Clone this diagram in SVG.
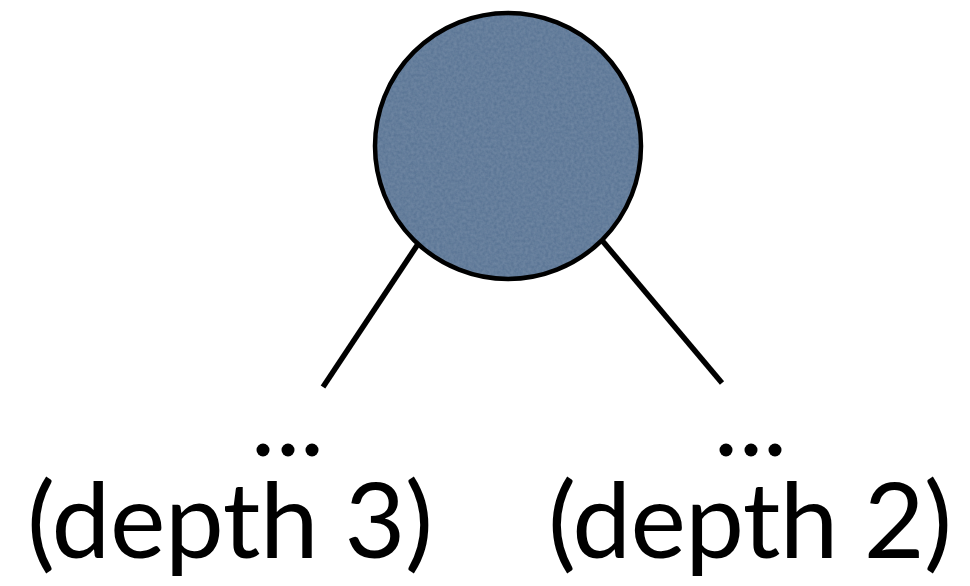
<svg xmlns="http://www.w3.org/2000/svg" width="970" height="586" viewBox="0 0 970 586">
  <style>
    .node-fill { fill: #5a7494; }
    .node-ring { fill: none; stroke: #000; stroke-width: 4.5; }
    .edge { stroke: #000; stroke-width: 5.5; fill: none; }
    .label { font-family: "Lato", "Open Sans", "DejaVu Sans", sans-serif; font-size: 105px; fill: #000; }
  </style>
  <defs>
    <!-- soft mottled grain for the node fill -->
    <filter id="grain" x="0" y="0" width="100%" height="100%">
      <feTurbulence type="fractalNoise" baseFrequency="0.35" numOctaves="2" seed="3" result="noise"/>
      <feColorMatrix in="noise" type="matrix" values="0 0 0 0 0.33  0 0 0 0 0.43  0 0 0 0 0.56  0 0 0 0.35 -0.05" result="tint"/>
      <feComposite in="tint" in2="SourceGraphic" operator="in" result="clipped"/>
      <feMerge><feMergeNode in="SourceGraphic"/><feMergeNode in="clipped"/></feMerge>
    </filter>
  </defs>

  <rect width="970" height="586" fill="#fff"/>

  <g id="connectors">
    <line class="edge" x1="420" y1="241" x2="323" y2="387"/>
    <line class="edge" x1="600" y1="238" x2="722" y2="383"/>
  </g>

  <g id="root">
    <circle cx="508" cy="146" r="133" class="node-fill" filter="url(#grain)"/>
    <circle cx="508" cy="146" r="133" class="node-ring"/>
  </g>

  <g id="left-subtree">
    <circle cx="263" cy="450" r="6.5"/>
    <circle cx="288" cy="450" r="6.5"/>
    <circle cx="312" cy="450" r="6.5"/>
    <text class="label" x="27" y="558" textLength="406">(depth 3)</text>
  </g>

  <g id="right-subtree">
    <circle cx="726" cy="450" r="6.5"/>
    <circle cx="751" cy="450" r="6.5"/>
    <circle cx="775" cy="450" r="6.5"/>
    <text class="label" x="548" y="558" textLength="404">(depth 2)</text>
  </g>
</svg>
